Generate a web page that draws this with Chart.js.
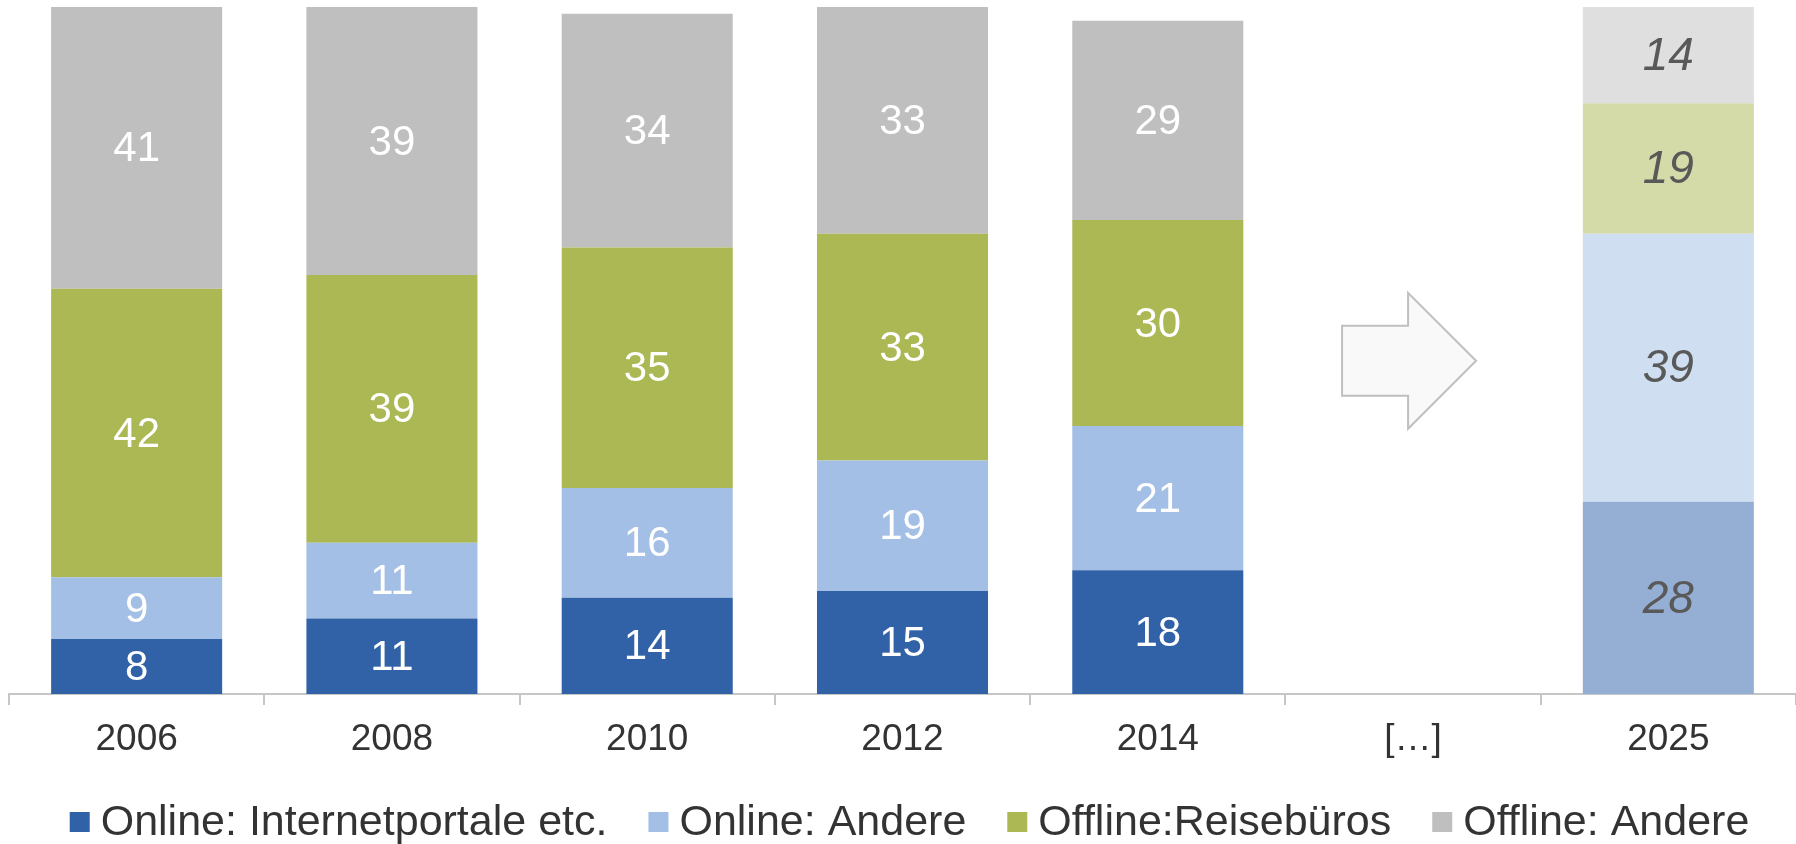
<!DOCTYPE html>
<html>
<head>
<meta charset="utf-8">
<script src="https://cdn.jsdelivr.net/npm/chart.js@4/dist/chart.umd.min.js"></script>
<style>
html, body { margin: 0; padding: 0; background: #fff; }
canvas { display: block; }
</style>
</head>
<body>
<canvas id="myCanvas" width="1796" height="844"></canvas>
<script>
"use strict";

// Buchungswege in %, 2025 = Prognose
var years = ['2006', '2008', '2010', '2012', '2014', '[…]', '2025'];
var seriesNames = ['Online: Internetportale etc.', 'Online: Andere', 'Offline:Reisebüros', 'Offline: Andere'];
var portale = [8, 11, 14, 15, 18, null, 28];
var onlineAndere = [9, 11, 16, 19, 21, null, 39];
var reisebueros = [42, 39, 35, 33, 30, null, 19];
var offlineAndere = [41, 39, 34, 33, 29, null, 14];

var colors = ['#3162a7', '#a4bfe5', '#abb853', '#bfbfbf'];
var forecastColors = ['#95afd4', '#cfdef1', '#d4dba8', '#dfdfdf'];
var forecastIndex = years.length - 1;

var fontFamily = '"Liberation Sans", Arial, sans-serif';

function barColors(i) {
	return years.map(function (y, j) {
		return j === forecastIndex ? forecastColors[i] : colors[i];
	});
}

var values = [portale, onlineAndere, reisebueros, offlineAndere];
var datasets = [];
for (var i in values) {
	datasets.push({
		label: seriesNames[i],
		data: values[i],
		backgroundColor: barColors(i),
		borderWidth: 0,
		barPercentage: 0.67,
		categoryPercentage: 1
	});
}

// value labels in the middle of every segment
var segmentLabels = {
	id: 'segmentLabels',
	afterDatasetsDraw: function (chart) {
		var ctx = chart.ctx;
		ctx.save();
		ctx.textAlign = 'center';
		ctx.textBaseline = 'middle';
		chart.data.datasets.forEach(function (ds, d) {
			var meta = chart.getDatasetMeta(d);
			meta.data.forEach(function (bar, j) {
				var v = ds.data[j];
				if (v === null) return;
				var p = bar.getProps(['x', 'y', 'base'], true);
				if (j === forecastIndex) {
					ctx.font = 'italic 46px ' + fontFamily;
					ctx.fillStyle = '#595959';
				} else {
					ctx.font = '42px ' + fontFamily;
					ctx.fillStyle = '#ffffff';
				}
				ctx.fillText(String(v), p.x, (p.y + p.base) / 2 + 2);
			});
		});
		ctx.restore();
	}
};

// block arrow in the gap before the forecast
var gapArrow = {
	id: 'gapArrow',
	beforeDatasetsDraw: function (chart) {
		var ctx = chart.ctx;
		var cx = chart.scales.x.getPixelForValue(5) - 4;
		var cy = chart.scales.y.getPixelForValue(48.5);
		var w = 134, h = 136, bodyH = 70, bodyW = 66;
		var left = cx - w / 2, right = cx + w / 2, neck = left + bodyW;
		ctx.save();
		ctx.beginPath();
		ctx.moveTo(left, cy - bodyH / 2);
		ctx.lineTo(neck, cy - bodyH / 2);
		ctx.lineTo(neck, cy - h / 2);
		ctx.lineTo(right, cy);
		ctx.lineTo(neck, cy + h / 2);
		ctx.lineTo(neck, cy + bodyH / 2);
		ctx.lineTo(left, cy + bodyH / 2);
		ctx.closePath();
		ctx.fillStyle = '#f9f9f9';
		ctx.fill();
		ctx.lineWidth = 2;
		ctx.strokeStyle = '#bfbfbf';
		ctx.stroke();
		ctx.restore();
	}
};

// legend row along the bottom
var legendRow = {
	id: 'legendRow',
	afterDraw: function (chart) {
		var ctx = chart.ctx;
		var box = 20, gap = 11, spacing = 41;
		ctx.save();
		ctx.font = '43px ' + fontFamily;
		ctx.textBaseline = 'middle';
		ctx.textAlign = 'left';
		var widths = chart.data.datasets.map(function (ds) {
			return ctx.measureText(ds.label).width;
		});
		var total = spacing * (widths.length - 1);
		widths.forEach(function (w) { total += box + gap + w; });
		var x = (chart.chartArea.left + chart.chartArea.right) / 2 + 7 - total / 2;
		var y = chart.height - 22;
		chart.data.datasets.forEach(function (ds, d) {
			ctx.fillStyle = colors[d];
			ctx.fillRect(x, y - box / 2, box, box);
			ctx.fillStyle = '#333333';
			ctx.fillText(ds.label, x + box + gap, y + 1);
			x += box + gap + widths[d] + spacing;
		});
		ctx.restore();
	}
};

var ctx = document.getElementById('myCanvas');
var barGraph = new Chart(ctx, {
	type: 'bar',
	data: {
		labels: years,
		datasets: datasets
	},
	options: {
		responsive: false,
		animation: false,
		layout: {
			padding: { left: 9, right: 0, top: 7, bottom: 0 }
		},
		plugins: {
			legend: { display: false },
			tooltip: { enabled: false }
		},
		scales: {
			x: {
				stacked: true,
				grid: {
					offset: true,
					drawOnChartArea: false,
					drawTicks: true,
					tickLength: 11,
					color: '#c6c6c6',
					lineWidth: 2
				},
				border: { color: '#c6c6c6', width: 2 },
				ticks: {
					color: '#333333',
					padding: 13,
					font: { family: fontFamily, size: 37 },
					maxRotation: 0,
					autoSkip: false
				},
				afterFit: function (scale) {
					scale.height = 150;
				}
			},
			y: {
				stacked: true,
				display: false,
				min: 0,
				max: 100
			}
		}
	},
	plugins: [gapArrow, segmentLabels, legendRow]
});
</script>
</body>
</html>
